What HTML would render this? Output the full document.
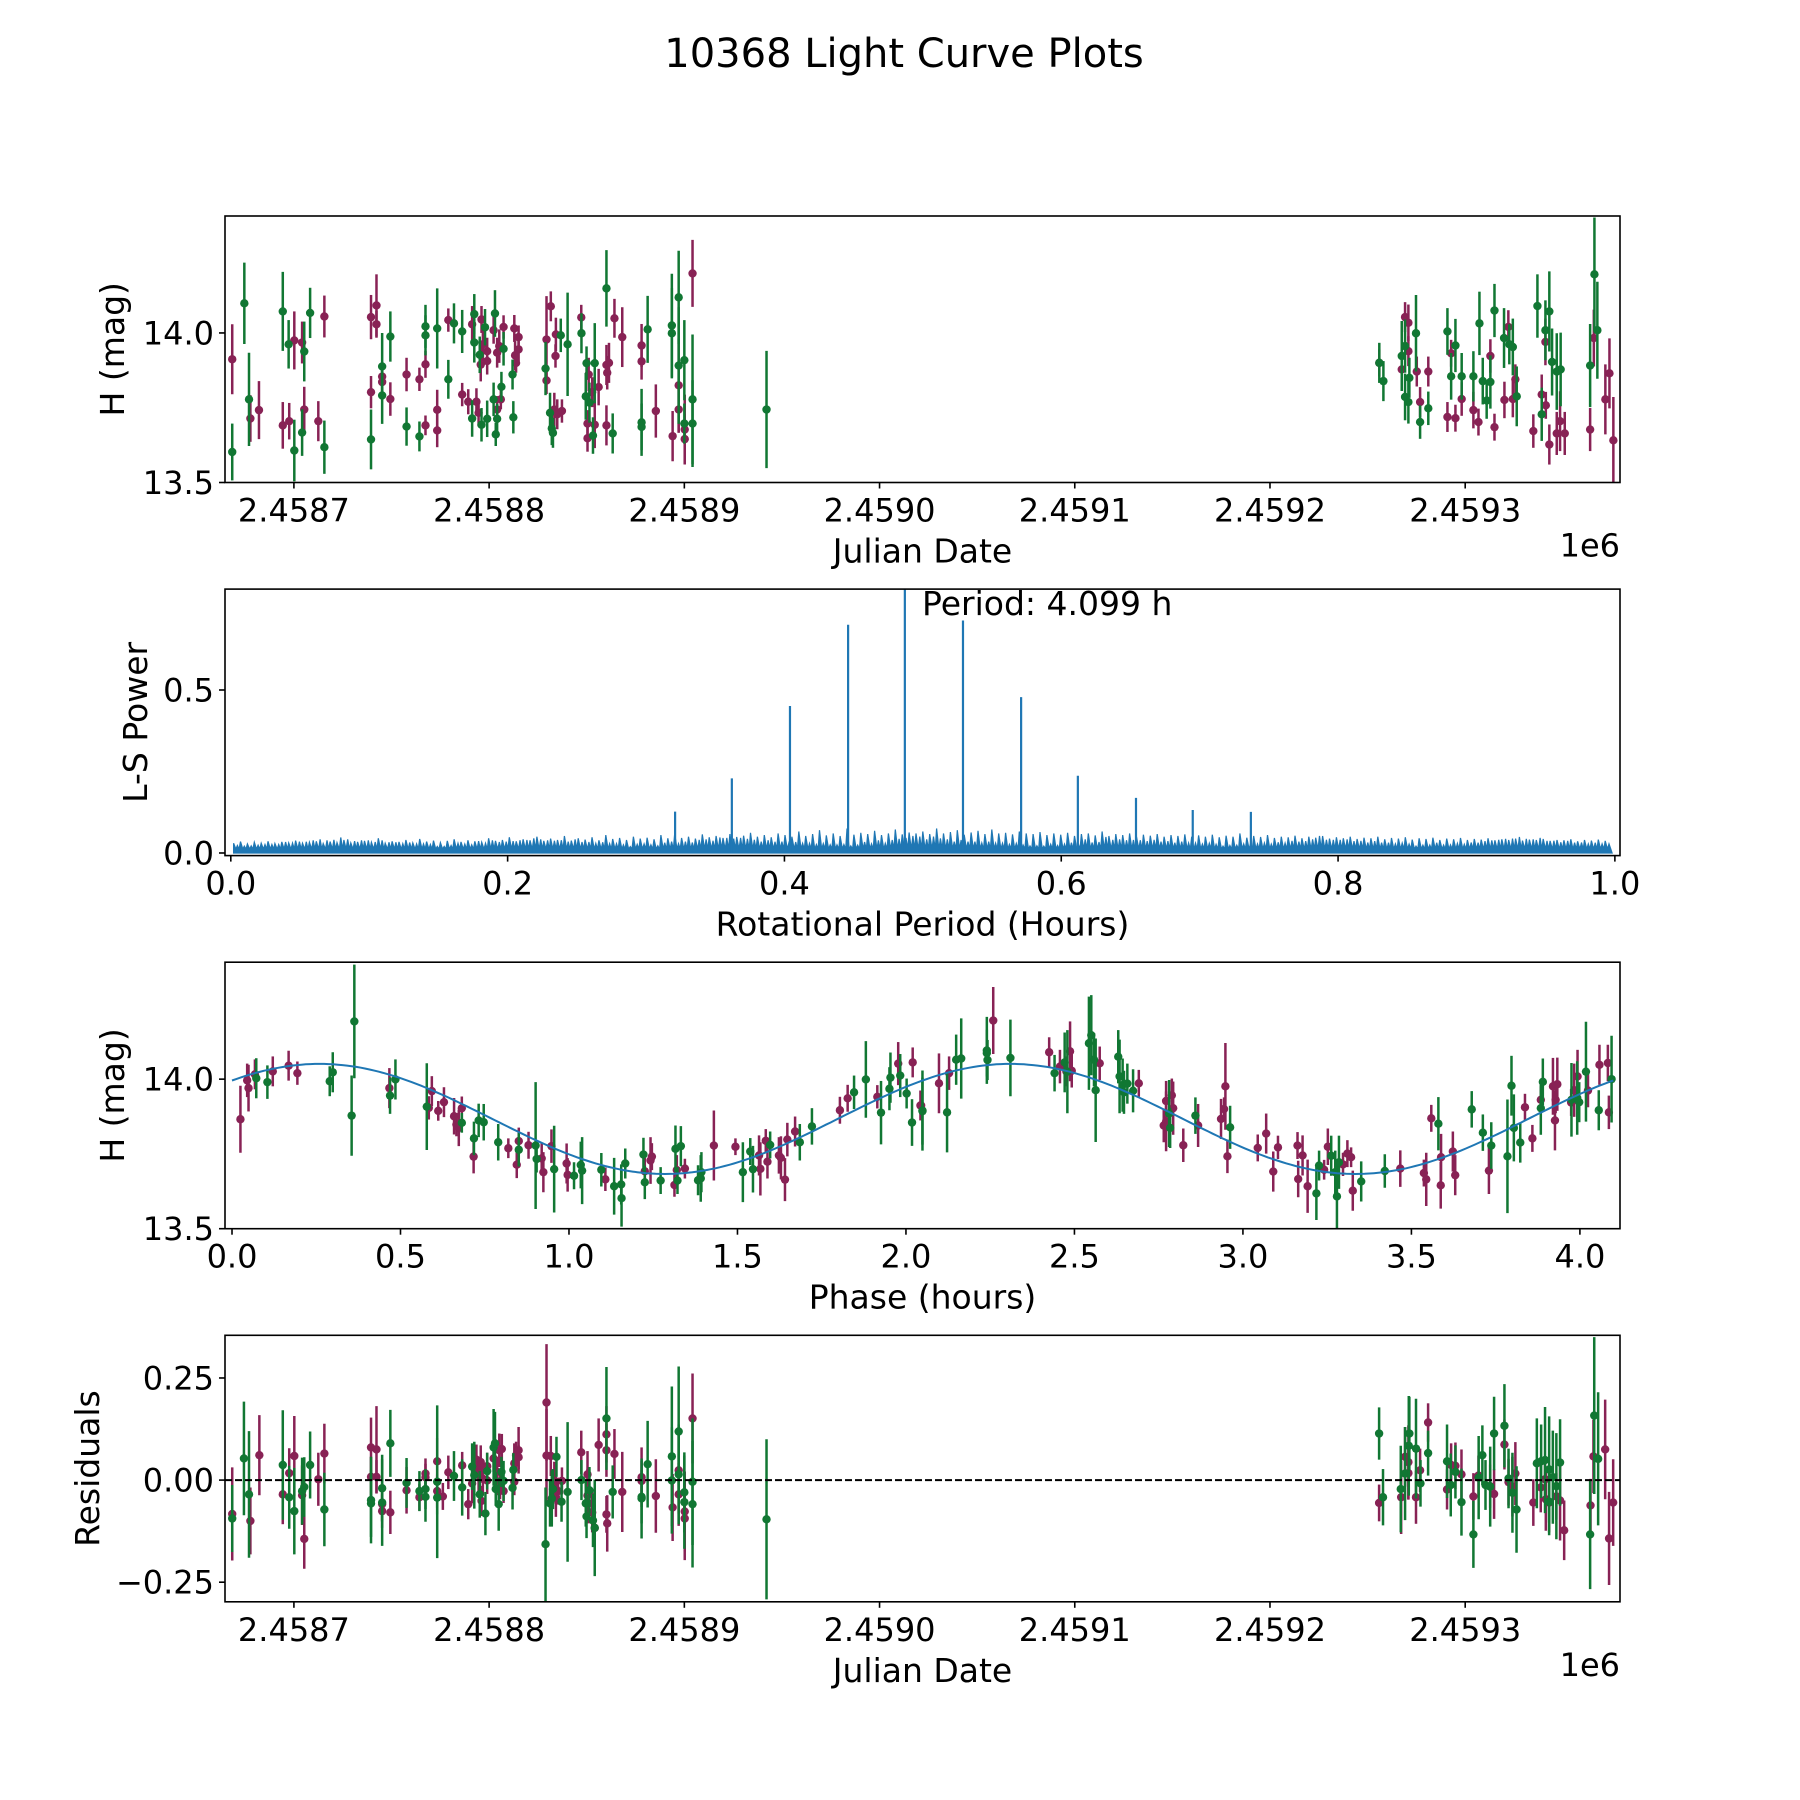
<!DOCTYPE html>
<html><head><meta charset="utf-8"><title>10368 Light Curve Plots</title>
<style>
html,body{margin:0;padding:0;background:#fff;}
svg{display:block;font-family:"DejaVu Sans","Liberation Sans",sans-serif;}
</style></head>
<body>
<svg id="fig" xmlns="http://www.w3.org/2000/svg" width="1800" height="1800" viewBox="0 0 1800 1800">
<rect x="0" y="0" width="1800" height="1800" fill="#fff"/>
<text x="904" y="67" font-size="40" text-anchor="middle">10368 Light Curve Plots</text>
<g id="p1"></g>
<g id="p2"></g>
<g id="p3"></g>
<g id="p4"></g>
</svg>
<script>
// ---------- DATA ----------
const maroonJD=[668.4,677.7,682.1,694.3,697.6,700.2,704.2,705.3,712.5,715.6,739.5,739.5,742.3,742.3,745.2,745.2,749.4,757.7,764.3,767.4,767.4,773.4,773.4,779.1,786.2,789.3,791.3,793.5,794.6,795.7,796.1,796.8,799.0,799.0,802.3,804.1,804.1,805.2,806.0,807.4,812.9,813.3,813.8,815.1,815.1,829.4,829.4,831.6,833.4,834.0,834.2,834.9,837.3,847.2,850.4,850.4,851.0,852.8,854.1,856.1,860.1,860.1,860.5,861.4,864.2,868.2,878.1,878.1,885.4,894.0,897.1,897.1,900.2,900.2,904.2,
1256.0,1267.5,1269.2,1270.9,1270.9,1275.2,1276.9,1281.1,1290.9,1292.8,1295.0,1298.2,1304.2,1306.8,1312.9,1315.0,1320.1,1322.1,1324.4,1325.7,1334.9,1339.2,1341.1,1341.3,1343.1,1346.9,1348.6,1351.0,1364.0,1365.9,1371.8,1373.9,1375.9];
const maroonMag=[13.912,13.714,13.742,13.691,13.705,13.975,13.968,13.744,13.705,14.055,14.053,13.802,14.092,14.029,13.854,13.836,13.779,13.861,13.845,13.691,13.895,13.743,13.674,14.043,13.794,13.770,14.029,13.770,13.733,13.894,14.045,13.962,13.906,13.939,14.009,13.934,13.744,13.956,13.778,14.020,14.015,13.925,13.900,13.945,13.986,13.978,13.841,14.089,13.744,13.923,13.995,13.728,13.739,14.052,13.697,13.648,13.861,13.802,13.693,13.819,13.691,13.893,13.867,13.900,14.049,13.986,13.958,13.905,13.739,13.655,13.825,13.744,13.645,13.677,14.199,
13.900,13.878,14.053,14.034,13.939,13.871,13.769,13.871,13.719,13.932,13.715,13.779,13.742,13.702,13.923,13.685,13.776,14.020,13.779,13.845,13.672,13.794,13.970,13.758,13.627,13.664,13.705,13.664,13.677,13.983,13.778,13.865,13.641];
const maroonErr=[0.117,0.078,0.097,0.078,0.061,0.097,0.070,0.076,0.067,0.070,0.074,0.054,0.104,0.045,0.033,0.045,0.056,0.056,0.039,0.033,0.045,0.067,0.056,0.039,0.039,0.042,0.061,0.045,0.045,0.056,0.045,0.056,0.045,0.045,0.045,0.050,0.045,0.056,0.033,0.039,0.045,0.050,0.033,0.039,0.039,0.145,0.045,0.050,0.056,0.039,0.056,0.050,0.039,0.042,0.045,0.045,0.056,0.050,0.078,0.061,0.067,0.067,0.056,0.067,0.065,0.100,0.072,0.061,0.089,0.084,0.156,0.078,0.084,0.117,0.112,
0.045,0.072,0.050,0.061,0.050,0.050,0.050,0.050,0.050,0.045,0.045,0.056,0.061,0.045,0.056,0.045,0.061,0.056,0.061,0.050,0.056,0.067,0.078,0.045,0.067,0.072,0.100,0.072,0.072,0.095,0.117,0.117,0.145];

const greenJD=[668.4,674.6,677.0,694.3,697.3,700.2,704.2,705.3,708.3,715.6,739.5,745.2,745.2,749.4,757.7,764.3,767.4,767.4,773.4,779.1,782.0,786.2,791.3,792.4,792.4,795.2,796.1,797.9,799.0,802.3,803.0,803.4,804.1,806.3,807.4,812.0,812.4,828.9,831.2,832.1,832.7,836.7,840.2,847.3,849.5,849.9,851.4,853.2,854.1,860.1,863.3,878.1,878.1,881.2,893.6,893.6,897.1,897.1,900.0,900.0,904.2,904.2,942.1,
1256.0,1258.1,1267.5,1269.2,1269.2,1271.4,1270.9,1274.8,1276.9,1281.1,1290.9,1292.8,1295.0,1298.2,1304.2,1307.3,1309.0,1311.0,1312.9,1315.0,1319.9,1322.6,1324.4,1326.4,1337.0,1339.2,1341.1,1343.1,1344.5,1346.9,1348.9,1364.0,1366.2,1367.7];
const greenMag=[13.602,14.099,13.778,14.072,13.962,13.607,13.667,13.938,14.067,13.618,13.644,13.888,13.791,13.988,13.687,13.654,14.022,13.992,14.015,13.845,14.032,14.005,13.714,14.063,13.968,13.927,13.693,14.019,13.713,13.778,14.065,13.661,13.713,13.820,13.947,13.861,13.718,13.881,13.733,13.681,13.666,13.992,13.962,13.999,13.788,13.899,13.767,13.657,13.899,14.149,13.664,13.701,13.686,14.012,14.025,13.999,14.119,13.891,13.909,13.697,13.778,13.697,13.744,
13.900,13.839,13.923,13.956,13.786,13.850,13.769,13.999,13.702,13.748,14.005,13.855,13.958,13.855,13.855,14.032,13.839,13.774,13.836,14.075,13.983,13.962,13.953,13.788,14.090,13.728,14.009,14.072,13.903,13.871,13.878,13.891,14.196,14.009];
const greenErr=[0.095,0.136,0.156,0.132,0.081,0.103,0.078,0.100,0.084,0.089,0.100,0.112,0.095,0.084,0.064,0.050,0.072,0.067,0.134,0.065,0.067,0.072,0.061,0.067,0.067,0.061,0.056,0.061,0.061,0.056,0.078,0.039,0.050,0.050,0.056,0.050,0.054,0.089,0.067,0.056,0.050,0.056,0.173,0.067,0.078,0.056,0.067,0.061,0.134,0.128,0.067,0.112,0.078,0.112,0.173,0.151,0.156,0.195,0.134,0.067,0.217,0.145,0.196,
0.067,0.067,0.117,0.089,0.078,0.067,0.072,0.128,0.056,0.056,0.078,0.078,0.089,0.078,0.084,0.106,0.078,0.061,0.089,0.089,0.100,0.067,0.095,0.100,0.106,0.089,0.100,0.134,0.112,0.128,0.123,0.139,0.190,0.162];

const periodNoise=[0.03,0.035,0.028,0.033,0.03,0.036,0.029,0.034,0.031,0.038,0.03,0.033,0.036,0.029,0.035,0.032,0.04,0.031,0.034,0.037,
0.033,0.045,0.03,0.036,0.034,0.04,0.031,0.043,0.035,0.038,0.032,0.037,0.042,0.034,0.039,0.036,0.033,0.045,0.037,0.04,
0.048,0.036,0.042,0.039,0.05,0.037,0.044,0.04,0.052,0.038,0.045,0.041,0.048,0.039,0.055,0.043,0.046,0.04,0.05,0.044,
0.047,0.042,0.055,0.045,0.06,0.046,0.05,0.044,0.057,0.048,0.052,0.046,0.058,0.049,0.053,0.062,0.05,0.055,0.048,0.06,
0.055,0.05,0.066,0.052,0.058,0.07,0.054,0.06,0.052,0.075,0.056,0.062,0.058,0.068,0.055,0.06,0.072,0.057,0.063,0.06,
0.066,0.058,0.075,0.06,0.064,0.07,0.056,0.063,0.068,0.058,0.072,0.06,0.062,0.057,0.066,0.06,0.058,0.064,0.055,0.06,
0.056,0.062,0.052,0.058,0.06,0.054,0.066,0.052,0.058,0.055,0.06,0.05,0.056,0.053,0.058,0.05,0.055,0.052,0.057,0.05,
0.054,0.05,0.056,0.048,0.053,0.05,0.06,0.047,0.052,0.049,0.055,0.046,0.05,0.048,0.053,0.045,0.05,0.047,0.052,0.044,
0.048,0.045,0.05,0.043,0.047,0.045,0.05,0.042,0.046,0.044,0.048,0.041,0.045,0.043,0.047,0.04,0.044,0.042,0.046,0.04,
0.043,0.041,0.045,0.039,0.042,0.04,0.044,0.038,0.041,0.04,0.043,0.037,0.04,0.039,0.042,0.036,0.04,0.038,0.041,0.037];
const noiseFloor=0.012;
const peakPeriod=[0.321,0.362,0.404,0.446,0.487,0.529,0.571,0.612,0.654,0.695,0.737];
const peakPower=[0.127,0.229,0.451,0.700,0.850,0.713,0.478,0.237,0.169,0.132,0.126];
const bestPeriodLabel="Period: 4.099 h";

const phaseMaroon=[0.025,0.045,0.049,0.068,0.121,0.168,0.194,0.467,0.584,0.593,0.612,0.629,0.659,0.666,0.673,0.682,0.717,0.820,0.845,0.851,0.880,0.919,0.924,0.948,0.993,0.996,1.108,1.225,1.242,1.246,1.313,1.320,1.344,1.430,1.494,1.564,1.568,1.584,1.589,1.623,1.629,1.641,1.648,1.671,1.804,1.827,1.915,1.977,2.020,2.043,
2.045,2.098,2.128,2.259,2.425,2.457,2.476,2.487,2.492,2.575,2.691,2.765,2.772,2.772,2.789,2.793,2.823,2.867,2.935,2.944,2.948,2.954,3.044,3.069,3.090,3.104,3.162,3.164,3.177,3.192,3.241,3.252,3.297,3.310,3.321,3.326,3.467,3.537,3.544,3.559,3.587,3.588,3.623,3.630,3.730,3.837,3.859,3.884,3.920,3.926,3.928,3.933,3.974,3.983,3.993,4.024,4.058,4.083,4.086];
const phaseMaroonMag=[13.866,13.996,13.970,14.016,14.026,14.045,14.020,13.970,13.904,13.960,13.894,13.923,13.876,13.848,13.837,13.903,13.741,13.769,13.714,13.793,13.779,13.735,13.689,13.776,13.718,13.680,13.665,13.692,13.728,13.741,13.646,13.696,13.701,13.778,13.774,13.745,13.700,13.794,13.724,13.745,13.737,13.664,13.798,13.825,13.896,13.936,13.941,14.052,14.056,13.912,
13.912,13.986,14.020,14.196,14.090,14.042,14.026,14.093,14.028,14.053,13.986,13.845,13.859,13.927,13.946,13.903,13.779,13.845,13.867,13.900,13.976,13.742,13.770,13.818,13.691,13.772,13.778,13.666,13.745,13.642,13.697,13.774,13.715,13.751,13.739,13.627,13.701,13.686,13.665,13.869,13.645,13.739,13.758,13.679,13.694,13.906,13.802,13.931,13.976,13.862,13.931,13.983,13.922,13.963,14.009,13.962,14.048,14.054,13.889];
const phaseMaroonErr=[0.112,0.056,0.078,0.050,0.050,0.050,0.039,0.067,0.039,0.050,0.033,0.050,0.061,0.039,0.061,0.039,0.056,0.033,0.045,0.045,0.045,0.050,0.067,0.056,0.067,0.056,0.039,0.045,0.078,0.045,0.039,0.050,0.033,0.117,0.028,0.067,0.089,0.039,0.056,0.061,0.072,0.072,0.056,0.050,0.045,0.045,0.039,0.072,0.050,0.050,
0.045,0.100,0.056,0.112,0.050,0.056,0.050,0.100,0.056,0.056,0.045,0.056,0.100,0.067,0.056,0.089,0.056,0.072,0.067,0.039,0.145,0.056,0.045,0.067,0.067,0.039,0.045,0.061,0.067,0.089,0.033,0.061,0.039,0.045,0.033,0.067,0.061,0.045,0.089,0.045,0.078,0.078,0.067,0.067,0.078,0.045,0.045,0.045,0.095,0.100,0.045,0.089,0.045,0.089,0.089,0.056,0.067,0.061,0.056];

const phaseGreen=[0.072,0.105,0.290,0.299,0.355,0.363,0.469,0.485,0.578,0.682,0.718,0.732,0.747,0.790,0.851,0.901,0.904,0.956,1.015,1.035,1.039,1.096,1.134,1.155,1.156,1.167,1.221,1.225,1.272,1.316,1.322,1.332,1.383,1.391,1.393,1.516,1.538,1.546,1.597,1.685,1.721,1.846,1.881,1.926,1.951,1.954,1.983,2.002,2.018,2.049,
2.049,2.122,2.149,2.164,2.240,2.242,2.240,2.310,2.441,2.471,2.479,2.543,2.550,2.558,2.563,2.630,2.634,2.643,2.647,2.657,2.674,2.781,2.784,2.859,2.962,3.218,3.226,3.262,3.274,3.279,3.285,3.351,3.421,3.580,3.679,3.712,3.737,3.785,3.797,3.804,3.823,3.884,3.890,3.975,3.992,3.998,4.018,4.056,4.094];
const phaseGreenMag=[14.003,13.990,13.993,14.023,13.878,14.193,13.945,13.999,13.908,13.854,13.802,13.862,13.856,13.789,13.764,13.778,13.733,13.699,13.677,13.713,13.694,13.697,13.642,13.648,13.602,13.718,13.748,13.655,13.661,13.767,13.661,13.776,13.662,13.668,13.689,13.689,13.758,13.699,13.780,13.789,13.842,13.956,13.999,13.888,13.968,14.005,14.012,13.952,13.855,13.893,
13.895,13.889,14.065,14.069,14.096,14.064,14.087,14.071,14.020,14.056,14.025,14.120,14.147,14.065,13.963,14.075,14.009,13.980,13.956,13.985,13.961,13.885,13.837,13.878,13.839,13.618,13.711,13.744,13.689,13.608,13.722,13.658,13.693,13.851,13.899,13.821,13.778,13.742,13.978,13.837,13.788,13.903,13.991,13.931,13.937,13.923,14.025,13.896,14.000];
const phaseGreenErr=[0.067,0.056,0.050,0.067,0.134,0.190,0.061,0.067,0.145,0.033,0.056,0.056,0.061,0.061,0.056,0.212,0.045,0.145,0.045,0.078,0.112,0.056,0.095,0.067,0.095,0.050,0.056,0.056,0.045,0.078,0.045,0.067,0.050,0.078,0.067,0.100,0.045,0.078,0.045,0.061,0.061,0.056,0.128,0.106,0.072,0.084,0.072,0.050,0.078,0.112,
0.134,0.134,0.084,0.134,0.112,0.067,0.078,0.128,0.061,0.100,0.139,0.156,0.134,0.089,0.173,0.089,0.123,0.089,0.072,0.067,0.072,0.112,0.067,0.061,0.072,0.089,0.050,0.067,0.072,0.106,0.089,0.067,0.056,0.089,0.061,0.061,0.078,0.190,0.100,0.112,0.067,0.089,0.078,0.123,0.123,0.067,0.167,0.067,0.145];

const modelPeriod=4.099, modelMean=13.867, modelAmp=0.184, modelPeakPhase=0.26;

const residMaroonJD=[668.4,677.7,682.3,694.3,697.6,700.2,704.2,705.3,712.5,715.6,739.5,739.5,742.3,742.3,745.2,745.2,749.4,757.7,764.3,767.4,767.4,773.4,773.4,776.3,779.1,786.2,789.3,791.3,793.5,794.6,795.7,796.1,796.8,799.0,799.0,802.3,804.1,804.1,805.2,805.6,806.5,807.4,812.9,812.9,813.8,815.1,815.1,829.4,829.4,831.6,833.4,834.0,834.2,835.3,837.3,847.2,850.4,850.4,851.0,852.8,854.1,856.1,860.1,860.1,860.1,860.5,864.2,868.2,878.1,878.1,885.4,894.0,897.1,897.1,900.2,900.2,904.2,
1255.9,1267.2,1269.2,1270.9,1270.9,1274.8,1276.9,1281.0,1290.7,1292.8,1295.0,1298.1,1304.2,1306.8,1312.8,1314.8,1320.1,1322.2,1324.2,1325.7,1334.9,1338.7,1340.9,1341.3,1343.0,1346.7,1348.6,1350.7,1364.2,1365.7,1371.7,1373.7,1375.8];
const residMaroon=[-0.083,-0.100,0.061,-0.035,0.017,0.059,-0.037,-0.144,0.002,0.065,0.080,0.008,0.075,0.008,-0.059,-0.076,-0.079,-0.025,-0.042,0.016,0.007,0.046,-0.027,-0.040,0.019,0.036,-0.059,-0.008,0.050,0.012,0.044,-0.051,0.003,0.034,-0.001,0.053,0.020,-0.004,0.073,-0.014,0.076,-0.027,0.041,-0.004,0.061,0.073,0.056,0.190,0.060,0.059,-0.004,-0.020,-0.041,-0.027,-0.002,0.068,0.014,-0.038,-0.057,-0.079,-0.117,0.086,0.112,0.073,-0.084,-0.106,0.064,-0.029,0.007,-0.002,-0.039,-0.067,0.024,-0.035,-0.077,-0.094,0.151,
-0.056,-0.042,0.057,0.044,0.017,-0.042,0.024,0.141,-0.023,0.037,0.035,0.014,-0.040,0.011,-0.015,-0.034,0.087,-0.005,-0.016,0.016,-0.055,-0.018,0.002,-0.047,-0.055,-0.040,-0.050,-0.123,-0.062,0.058,0.075,-0.143,-0.055];
const residMaroonErr=[0.114,0.082,0.098,0.073,0.061,0.098,0.073,0.073,0.065,0.073,0.073,0.049,0.106,0.041,0.041,0.041,0.053,0.057,0.033,0.037,0.033,0.057,0.041,0.033,0.041,0.033,0.037,0.049,0.037,0.041,0.041,0.037,0.041,0.033,0.033,0.033,0.037,0.033,0.041,0.033,0.037,0.029,0.049,0.033,0.033,0.057,0.029,0.143,0.114,0.049,0.049,0.037,0.049,0.033,0.033,0.053,0.057,0.065,0.049,0.049,0.057,0.065,0.069,0.065,0.045,0.069,0.061,0.098,0.073,0.049,0.090,0.082,0.106,0.077,0.098,0.102,0.110,
0.045,0.090,0.073,0.090,0.065,0.065,0.053,0.047,0.049,0.053,0.057,0.061,0.057,0.049,0.053,0.061,0.061,0.057,0.073,0.077,0.057,0.061,0.053,0.077,0.073,0.057,0.098,0.073,0.065,0.090,0.122,0.114,0.106];

const residGreenJD=[668.4,674.4,677.0,694.3,697.6,700.2,704.2,705.3,708.3,715.6,739.5,739.5,745.2,745.2,749.4,757.7,764.3,767.4,767.4,773.4,773.4,782.0,786.2,791.3,792.4,795.2,798.1,799.0,802.3,803.0,803.4,804.9,806.3,807.4,812.0,812.4,828.9,831.2,832.1,832.7,834.5,837.1,840.2,847.3,849.5,849.9,851.4,853.2,854.1,860.1,863.3,878.1,878.1,881.2,893.6,893.6,897.1,897.1,900.0,900.0,904.2,904.2,942.1,
1255.9,1257.9,1267.0,1269.2,1271.1,1271.4,1274.8,1277.1,1281.0,1290.7,1292.6,1295.0,1298.1,1304.2,1306.9,1308.8,1310.4,1312.8,1314.8,1320.1,1322.2,1324.2,1326.3,1336.7,1338.9,1340.9,1343.0,1343.0,1344.9,1346.7,1348.6,1364.0,1366.1,1368.1];
const residGreen=[-0.094,0.053,-0.035,0.037,-0.042,-0.076,-0.027,-0.017,0.037,-0.072,-0.049,-0.057,-0.020,-0.055,0.090,-0.007,-0.027,-0.022,-0.041,-0.004,-0.043,0.010,-0.018,0.033,0.012,-0.035,-0.082,0.022,0.080,0.090,-0.022,-0.059,0.020,-0.002,-0.019,0.025,-0.157,-0.057,-0.045,-0.022,0.057,-0.053,-0.029,0.000,-0.057,-0.089,-0.025,-0.099,-0.117,0.151,-0.029,-0.045,-0.041,0.039,0.058,-0.001,0.119,0.014,-0.030,-0.054,-0.004,-0.059,-0.096,
0.114,-0.042,-0.022,0.016,0.084,0.114,0.077,-0.008,0.066,0.046,-0.012,0.020,-0.054,-0.133,0.006,0.061,-0.012,-0.016,0.114,0.133,0.004,-0.031,-0.072,0.041,0.046,0.049,0.026,-0.053,0.007,-0.015,0.043,-0.133,0.158,0.052];
const residGreenErr=[0.082,0.139,0.155,0.134,0.077,0.106,0.082,0.073,0.082,0.090,0.106,0.082,0.082,0.106,0.082,0.061,0.049,0.049,0.061,0.187,0.041,0.061,0.069,0.057,0.082,0.057,0.053,0.045,0.094,0.077,0.041,0.065,0.037,0.049,0.053,0.041,0.139,0.057,0.069,0.049,0.049,0.049,0.171,0.049,0.057,0.053,0.057,0.065,0.118,0.126,0.065,0.098,0.065,0.106,0.171,0.130,0.159,0.122,0.098,0.114,0.155,0.155,0.196,
0.064,0.069,0.106,0.114,0.122,0.090,0.122,0.057,0.055,0.090,0.077,0.065,0.082,0.082,0.102,0.073,0.061,0.098,0.090,0.102,0.073,0.098,0.106,0.110,0.090,0.130,0.130,0.082,0.114,0.130,0.106,0.134,0.192,0.163];

const jdTicks=[700,800,900,1000,1100,1200,1300];
const jdTickLabels=["2.4587","2.4588","2.4589","2.4590","2.4591","2.4592","2.4593"];
const magTicks=[13.5,14.0], magTickLabels=["13.5","14.0"];
const powerTicks=[0,0.5], powerTickLabels=["0.0","0.5"];
const periodTicks=[0,0.2,0.4,0.6,0.8,1.0], periodTickLabels=["0.0","0.2","0.4","0.6","0.8","1.0"];
const phaseTicks=[0,0.5,1,1.5,2,2.5,3,3.5,4], phaseTickLabels=["0.0","0.5","1.0","1.5","2.0","2.5","3.0","3.5","4.0"];
const residTicks=[-0.25,0,0.25], residTickLabels=["\u22120.25","0.00","0.25"];

// ---------- DRAWING ----------
const NS="http://www.w3.org/2000/svg";
const MAROON="#882255", GREEN="#117733", BLUE="#1f77b4";
const L=225, W=1395, H=266.5;
const TICKFS=32, LABFS=33;
function mk(tag, attrs, parent){const e=document.createElementNS(NS,tag);for(const k in attrs)e.setAttribute(k,attrs[k]);parent.appendChild(e);return e;}
function scale(d0,d1,r0,r1){return v=>r0+(v-d0)/(d1-d0)*(r1-r0);}

function axesFrame(g, top, sx, sy, xt, xl, yt, yl, xlabel, ylabel, ylabX){
  const clipId="clip"+Math.round(top);
  const defs=mk("defs",{},g);
  const cp=mk("clipPath",{id:clipId},defs);
  mk("rect",{x:L,y:top,width:W,height:H},cp);
  const plot=mk("g",{"clip-path":"url(#"+clipId+")"},g);
  
  
  const frame=mk("rect",{x:L,y:top,width:W,height:H,fill:"none",stroke:"#000","stroke-width":1.6},g);
  
  
  const bottom=top+H;
  xt.forEach((v,i)=>{
    const x=sx(v);
    mk("line",{x1:x,x2:x,y1:bottom,y2:bottom+6,stroke:"#000","stroke-width":1.6},g);
    const t=mk("text",{x:x,y:bottom+39,"font-size":TICKFS,"text-anchor":"middle"},g);
    t.textContent=xl[i];
    
    
  });
  yt.forEach((v,i)=>{
    const y=sy(v);
    mk("line",{x1:L-6,x2:L,y1:y,y2:y,stroke:"#000","stroke-width":1.6},g);
    const t=mk("text",{x:L-11,y:y+11.5,"font-size":TICKFS,"text-anchor":"end"},g);
    t.textContent=yl[i];
    
    
  });
  const xa=mk("text",{x:L+W/2,y:bottom+80,"font-size":LABFS,"text-anchor":"middle"},g);
  xa.textContent=xlabel;
  
  
  const ya=mk("text",{x:0,y:0,"font-size":LABFS,"text-anchor":"middle",transform:"translate("+(ylabX+11)+","+(top+H/2)+") rotate(-90)"},g);
  ya.textContent=ylabel;
  
  
  return plot;
}
function errorbars(plot, xs, ys, es, color, sx, sy){
  for(let i=0;i<xs.length;i++){
    const x=sx(xs[i]);
    const bar=mk("line",{x1:x,x2:x,y1:sy(ys[i]-es[i]),y2:sy(ys[i]+es[i]),stroke:color,"stroke-width":2.5},plot);
    
    
    const dot=mk("circle",{cx:x,cy:sy(ys[i]),r:4.2,fill:color},plot);
    
    
  }
}
function offsetText(g, top){
  const t=mk("text",{x:L+W,y:top+H+74,"font-size":TICKFS,"text-anchor":"end"},g);
  t.textContent="1e6";
  
  
}

// Panel 1
(function(){
  const g=document.getElementById("p1"), top=216;
  const sx=scale(664.7,1379.3,L,L+W), sy=scale(13.5,14.391,top+H,top);
  const plot=axesFrame(g,top,sx,sy,jdTicks,jdTickLabels,magTicks,magTickLabels,"Julian Date","H (mag)",113);
  errorbars(plot,maroonJD,maroonMag,maroonErr,MAROON,sx,sy);
  errorbars(plot,greenJD,greenMag,greenErr,GREEN,sx,sy);
  offsetText(g,top);
})();

// Panel 2
(function(){
  const g=document.getElementById("p2"), top=589.1;
  const sx=scale(-0.0042,1.0037,L,L+W), sy=scale(-0.008,0.8095,top+H,top);
  const plot=axesFrame(g,top,sx,sy,periodTicks,periodTickLabels,powerTicks,powerTickLabels,"Rotational Period (Hours)","L-S Power",136);
  const step=1/periodNoise.length;
  let pts=[[sx(0.002),sy(0)]];
  for(let i=0;i<periodNoise.length;i++){
    const p=0.002+i*step*0.996;
    pts.push([sx(p),sy(periodNoise[i])]);
    pts.push([sx(p+step*0.33),sy(noiseFloor)]);
    pts.push([sx(p+step*0.55),sy(periodNoise[(i*7+3)%periodNoise.length]*0.7)]);
    pts.push([sx(p+step*0.8),sy(noiseFloor)]);
  }
  pts.push([sx(0.998),sy(0)]);
  const poly=mk("polygon",{points:pts.map(p=>p[0].toFixed(1)+","+p[1].toFixed(1)).join(" "),fill:BLUE,stroke:BLUE,"stroke-width":1.2,"stroke-linejoin":"miter"},plot);
  
  
  peakPeriod.forEach((p,i)=>{
    const ln=mk("line",{x1:sx(p),x2:sx(p),y1:sy(0),y2:sy(peakPower[i]),stroke:BLUE,"stroke-width":2.2},plot);
    
    
  });
  const t=mk("text",{x:922,y:615,"font-size":33},g);
  t.textContent=bestPeriodLabel;
  
  
})();

// Panel 3
(function(){
  const g=document.getElementById("p3"), top=962.2;
  const sx=scale(-0.0208,4.119,L,L+W), sy=scale(13.5,14.391,top+H,top);
  const plot=axesFrame(g,top,sx,sy,phaseTicks,phaseTickLabels,magTicks,magTickLabels,"Phase (hours)","H (mag)",113);
  errorbars(plot,phaseMaroon,phaseMaroonMag,phaseMaroonErr,MAROON,sx,sy);
  errorbars(plot,phaseGreen,phaseGreenMag,phaseGreenErr,GREEN,sx,sy);
  let d="";
  for(let i=0;i<=300;i++){
    const t=modelPeriod*i/300;
    const m=modelMean+modelAmp*Math.cos(4*Math.PI*(t-modelPeakPhase)/modelPeriod);
    d+=(i?"L":"M")+sx(t).toFixed(1)+","+sy(m).toFixed(1);
  }
  const path=mk("path",{d:d,fill:"none",stroke:BLUE,"stroke-width":2},plot);
  
  
})();

// Panel 4
(function(){
  const g=document.getElementById("p4"), top=1335.3;
  const sx=scale(664.7,1379.3,L,L+W), sy=scale(-0.298,0.3545,top+H,top);
  const plot=axesFrame(g,top,sx,sy,jdTicks,jdTickLabels,residTicks,residTickLabels,"Julian Date","Residuals",88);
  errorbars(plot,residMaroonJD,residMaroon,residMaroonErr,MAROON,sx,sy);
  errorbars(plot,residGreenJD,residGreen,residGreenErr,GREEN,sx,sy);
  const z=mk("line",{x1:L,x2:L+W,y1:sy(0),y2:sy(0),stroke:"#000","stroke-width":2,"stroke-dasharray":"7,3"},plot);
  
  
  offsetText(g,top);
})();
</script>
</body></html>
